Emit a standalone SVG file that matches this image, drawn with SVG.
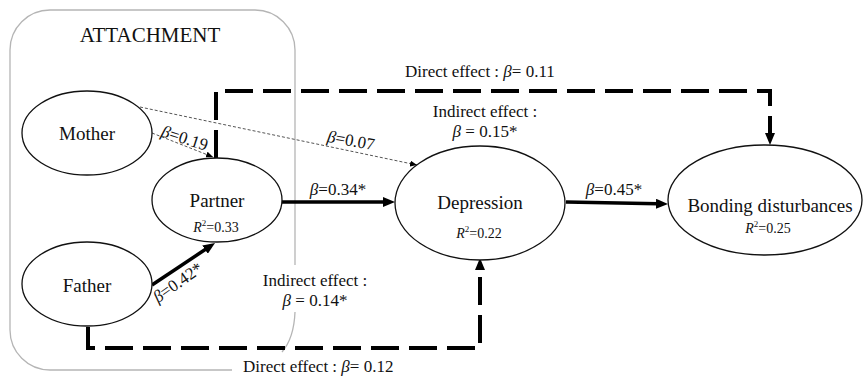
<svg xmlns="http://www.w3.org/2000/svg" width="864" height="377" viewBox="0 0 864 377">
<style>
text{font-family:"Liberation Serif","Times New Roman",serif;fill:#111}
.node{fill:#fff;stroke:#111;stroke-width:1.3}
.lbl{font-size:19px;text-anchor:middle}
.r2{font-size:14px;text-anchor:middle}
.eff{font-size:17px}
.mid{text-anchor:middle}
.thick{stroke:#000;stroke-width:3.5;fill:none}
.dash{stroke:#000;stroke-width:4;fill:none;stroke-dasharray:28 10}
.dot{stroke:#555;stroke-width:1;fill:none;stroke-dasharray:3 2}
.box{fill:none;stroke:#b5b5b5;stroke-width:1.3}
</style>
<defs>
<marker id="ah" markerUnits="userSpaceOnUse" markerWidth="12" markerHeight="10" refX="2" refY="5" orient="auto"><path d="M0,0 L12,5 L0,10 z" fill="#000"/></marker>
<marker id="ahs" markerUnits="userSpaceOnUse" markerWidth="7" markerHeight="6" refX="7" refY="3" orient="auto"><path d="M0,0 L7,3 L0,6 z" fill="#000"/></marker>
</defs>
<rect width="864" height="377" fill="#fff"/>
<g id="attachment-box">
<path class="box" d="M232 370 H50 A40 40 0 0 1 10 330 V50 A40 40 0 0 1 50 10 H255 A40 40 0 0 1 295 50 V265 M295 312 Q294 338 282 352"/>
<text x="150" y="42" style="font-size:21px;text-anchor:middle">ATTACHMENT</text>
</g>
<g id="connectors">
<path class="dash" d="M216 158 V91 H770 V135" marker-end="url(#ah)"/>
<path class="dash" d="M88 327 V348 H480 V268" marker-end="url(#ah)"/>
<line class="dot" x1="152" y1="133" x2="213" y2="157" marker-end="url(#ahs)"/>
<line class="dot" x1="140" y1="107" x2="417" y2="165" marker-end="url(#ahs)"/>
<line class="thick" x1="282" y1="202" x2="385" y2="202" marker-end="url(#ah)"/>
<line class="thick" x1="566" y1="202" x2="658" y2="203.8" marker-end="url(#ah)"/>
<line class="thick" x1="152" y1="285" x2="206.7" y2="248.5" marker-end="url(#ah)"/>
<text class="eff mid" transform="translate(183,143.5) rotate(18)"><tspan font-style="italic">β</tspan>=0.19</text>
<text class="eff mid" transform="translate(350,146) rotate(10)"><tspan font-style="italic">β</tspan>=0.07</text>
<text class="eff mid" transform="translate(181,287) rotate(-35)"><tspan font-style="italic">β</tspan>=0.42*</text>
<text class="eff mid" x="338" y="195"><tspan font-style="italic">β</tspan>=0.34*</text>
<text class="eff mid" x="614" y="195"><tspan font-style="italic">β</tspan>=0.45*</text>
<text class="eff" x="405" y="77">Direct effect : <tspan font-style="italic">β</tspan>= 0.11</text>
<text class="eff mid" x="485" y="117">Indirect effect :</text>
<text class="eff mid" x="485" y="137"><tspan font-style="italic">β</tspan> = 0.15*</text>
<text class="eff mid" x="315" y="286">Indirect effect :</text>
<text class="eff mid" x="315" y="306"><tspan font-style="italic">β</tspan> = 0.14*</text>
<text class="eff" x="243" y="372">Direct effect : <tspan font-style="italic">β</tspan>= 0.12</text>
</g>
<g id="mother">
<ellipse class="node" cx="87" cy="133" rx="65" ry="42"/>
<text class="lbl" x="87" y="140">Mother</text>
</g>
<g id="partner">
<ellipse class="node" cx="217" cy="200" rx="65" ry="42"/>
<text class="lbl" x="217" y="207">Partner</text>
<text class="r2" x="216" y="232"><tspan font-style="italic">R</tspan><tspan font-size="9" dy="-6">2</tspan><tspan dy="6">=0.33</tspan></text>
</g>
<g id="father">
<ellipse class="node" cx="87" cy="284" rx="65" ry="42"/>
<text class="lbl" x="87" y="292">Father</text>
</g>
<g id="depression">
<ellipse class="node" cx="480" cy="203" rx="85" ry="57"/>
<text class="lbl" x="480" y="209">Depression</text>
<text class="r2" x="479" y="238"><tspan font-style="italic">R</tspan><tspan font-size="9" dy="-6">2</tspan><tspan dy="6">=0.22</tspan></text>
</g>
<g id="bonding">
<ellipse class="node" cx="765" cy="200" rx="97" ry="55"/>
<text class="lbl" x="770" y="212">Bonding disturbances</text>
<text class="r2" x="768" y="233"><tspan font-style="italic">R</tspan><tspan font-size="9" dy="-6">2</tspan><tspan dy="6">=0.25</tspan></text>
</g>
</svg>
